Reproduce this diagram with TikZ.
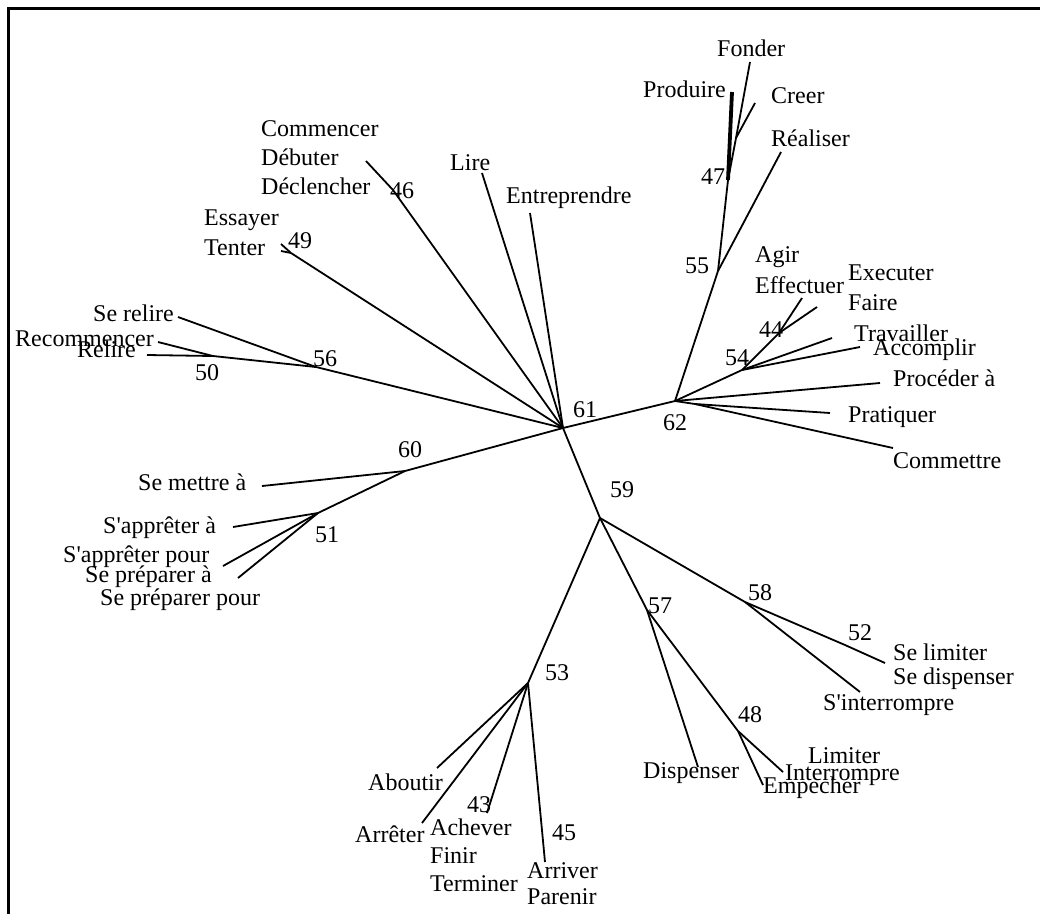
\documentclass[tikz,border=0pt]{standalone}
\usepackage{fontspec}
\setmainfont{Liberation Serif}[Ligatures=TeXOff]
\begin{document}
\begin{tikzpicture}[x=1pt,y=-1pt,
  br/.style={line width=1.8pt},
  thk/.style={line width=3.8pt},
  lbl/.style={anchor=base west, inner sep=0pt, font=\fontsize{24}{28}\selectfont}]
\useasboundingbox (0,0) rectangle (1040,914);
\draw[line width=3.5pt] (8.5,914) -- (8.5,8.5) -- (1040,8.5);
% internal nodes
\coordinate (n61) at (563,428);
\coordinate (n62) at (675,401);
\coordinate (n59) at (600,518);
\coordinate (n53) at (528,683);
\coordinate (n57) at (647,610);
\coordinate (n58) at (745,602);
\coordinate (n52) at (845,645);
\coordinate (n48) at (738,731);
\coordinate (n60) at (405,471);
\coordinate (n51) at (318,513);
\coordinate (n56) at (316,367);
\coordinate (n50) at (213,356);
\coordinate (n49) at (291,253);
\coordinate (n46) at (393,190);
\coordinate (n55) at (718,271);
\coordinate (n47) at (728,180);
\coordinate (n47a) at (736,138);
\coordinate (n54) at (742,370);
\coordinate (n44) at (779,333);
\coordinate (p1) at (695,404);
\coordinate (s58) at (754,609);
% leaves
\coordinate (lFonder) at (750,62);
\coordinate (lProduire) at (732,92);
\coordinate (lCreer) at (755,103);
\coordinate (lRealiser) at (781,152);
\coordinate (lLire) at (482,173);
\coordinate (lEntre) at (530,213);
\coordinate (lComm) at (366,161);
\coordinate (lEss) at (281,244);
\coordinate (lTen) at (281,251);
\coordinate (lSerelire) at (178,317);
\coordinate (lRecom) at (158,342);
\coordinate (lRelire) at (147,355);
\coordinate (lSemettre) at (262,486);
\coordinate (lSappa) at (233,527);
\coordinate (lSapppour) at (223,566);
\coordinate (lSeprep) at (238,578);
\coordinate (lAbout) at (437,768);
\coordinate (lArret) at (422,823);
\coordinate (l43) at (487,813);
\coordinate (l45) at (545,862);
\coordinate (lDispenser) at (698,767);
\coordinate (lLimiter) at (783,772);
\coordinate (lEmpecher) at (763,785);
\coordinate (lSelimiter) at (885,663);
\coordinate (lSinterr) at (860,692);
\coordinate (lAgir) at (802,298);
\coordinate (lExec) at (817,307);
\coordinate (lTrav) at (832,338);
\coordinate (lAccomp) at (860,347);
\coordinate (lProc) at (880,383);
\coordinate (lPrat) at (830,413);
\coordinate (lCommettre) at (893,448);
% edges
\draw[br] (n61) -- (n62);
\draw[br] (n61) -- (n59);
\draw[br] (n61) -- (n60);
\draw[br] (n61) -- (n56);
\draw[br] (n61) -- (n49);
\draw[br] (n61) -- (n46);
\draw[br] (n61) -- (lLire);
\draw[br] (n61) -- (lEntre);
\draw[br] (n62) -- (n55);
\draw[br] (n62) -- (n54);
\draw[br] (n62) -- (lProc);
\draw[br] (n62) -- (p1);
\draw[br] (p1) -- (lPrat);
\draw[br] (p1) -- (lCommettre);
\draw[br] (n55) -- (n47);
\draw[br] (n55) -- (lRealiser);
\draw[thk] (n47) -- (lProduire);
\draw[br] (n47) -- (n47a);
\draw[br] (n47a) -- (lFonder);
\draw[br] (n47a) -- (lCreer);
\draw[br] (n54) -- (n44);
\draw[br] (n54) -- (lTrav);
\draw[br] (n54) -- (lAccomp);
\draw[br] (n44) -- (lAgir);
\draw[br] (n44) -- (lExec);
\draw[br] (n59) -- (n53);
\draw[br] (n59) -- (n57);
\draw[br] (n59) -- (n58);
\draw[br] (n58) -- (n52);
\draw[br] (n52) -- (lSelimiter);
\draw[br] (n58) -- (s58);
\draw[br] (s58) -- (lSinterr);
\draw[br] (n57) -- (lDispenser);
\draw[br] (n57) -- (n48);
\draw[br] (n48) -- (lLimiter);
\draw[br] (n48) -- (lEmpecher);
\draw[br] (n53) -- (lAbout);
\draw[br] (n53) -- (lArret);
\draw[br] (n53) -- (l43);
\draw[br] (n53) -- (l45);
\draw[br] (n60) -- (lSemettre);
\draw[br] (n60) -- (n51);
\draw[br] (n51) -- (lSappa);
\draw[br] (n51) -- (lSapppour);
\draw[br] (n51) -- (lSeprep);
\draw[br] (n56) -- (lSerelire);
\draw[br] (n56) -- (n50);
\draw[br] (n50) -- (lRecom);
\draw[br] (n50) -- (lRelire);
\draw[br] (n49) -- (lEss);
\draw[br] (n49) -- (lTen);
\draw[br] (n46) -- (lComm);
% labels
\node[lbl] (tFonder) at (717,56) {Fonder};
\node[lbl] (tProduire) at (643,97) {Produire};
\node[lbl] (tCreer) at (771,103) {Creer};
\node[lbl] (tRealiser) at (771,146) {Réaliser};
\node[lbl] (t47) at (701,184) {47};
\node[lbl] (tEntre) at (506,203) {Entreprendre};
\node[lbl] (tLire) at (450,170) {Lire};
\node[lbl] (tComm) at (261,136) {Commencer};
\node[lbl] (tDeb) at (261,165) {Débuter};
\node[lbl] (tDecl) at (261,194) {Déclencher};
\node[lbl] (t46) at (390,198) {46};
\node[lbl] (tEss) at (204,225) {Essayer};
\node[lbl] (tTen) at (204,255) {Tenter};
\node[lbl] (t49) at (288,248) {49};
\node[lbl] (tSerelire) at (93,321) {Se relire};
\node[lbl] (tRecom) at (15,346) {Recommencer};
\node[lbl] (tRelire) at (77,357) {Relire};
\node[lbl] (t50) at (195,380) {50};
\node[lbl] (t56) at (313,366) {56};
\node[lbl] (t61) at (573,417) {61};
\node[lbl] (t62) at (663,430) {62};
\node[lbl] (t55) at (685,273) {55};
\node[lbl] (tAgir) at (755,262) {Agir};
\node[lbl] (tEff) at (755,293) {Effectuer};
\node[lbl] (tExec) at (848,280) {Executer};
\node[lbl] (tFaire) at (848,310) {Faire};
\node[lbl] (t44) at (759,337) {44};
\node[lbl] (tTrav) at (854,341) {Travailler};
\node[lbl] (tAccomp) at (873,355) {Accomplir};
\node[lbl] (t54) at (725,365) {54};
\node[lbl] (tProc) at (893,386) {Procéder à};
\node[lbl] (tPrat) at (848,422) {Pratiquer};
\node[lbl] (tCommettre) at (893,468) {Commettre};
\node[lbl] (t60) at (398,457) {60};
\node[lbl] (tSemettre) at (138,490) {Se mettre à};
\node[lbl] (tSappa) at (103,533) {S'apprêter à};
\node[lbl] (t51) at (315,542) {51};
\node[lbl] (tSapppour) at (63,562) {S'apprêter pour};
\node[lbl] (tSeprepa) at (85,582) {Se préparer à};
\node[lbl] (tSepreppour) at (100,605) {Se préparer pour};
\node[lbl] (t59) at (610,497) {59};
\node[lbl] (t58) at (748,600) {58};
\node[lbl] (t57) at (648,613) {57};
\node[lbl] (t52) at (848,640) {52};
\node[lbl] (tSelimiter) at (893,660) {Se limiter};
\node[lbl] (tSedisp) at (893,684) {Se dispenser};
\node[lbl] (tSinterr) at (823,710) {S'interrompre};
\node[lbl] (t48) at (738,722) {48};
\node[lbl] (tLimiter) at (808,763) {Limiter};
\node[lbl] (tInterr) at (785,780) {Interrompre};
\node[lbl] (tEmpecher) at (763,793) {Empecher};
\node[lbl] (tDispenser) at (643,778) {Dispenser};
\node[lbl] (t53) at (545,680) {53};
\node[lbl] (tAbout) at (368,790) {Aboutir};
\node[lbl] (tArret) at (355,842) {Arrêter};
\node[lbl] (t43) at (467,812) {43};
\node[lbl] (tAchever) at (430,835) {Achever};
\node[lbl] (tFinir) at (430,863) {Finir};
\node[lbl] (tTerminer) at (430,891) {Terminer};
\node[lbl] (t45) at (552,840) {45};
\node[lbl] (tArriver) at (527,878) {Arriver};
\node[lbl] (tParenir) at (527,904) {Parenir};
\end{tikzpicture}
\end{document}
